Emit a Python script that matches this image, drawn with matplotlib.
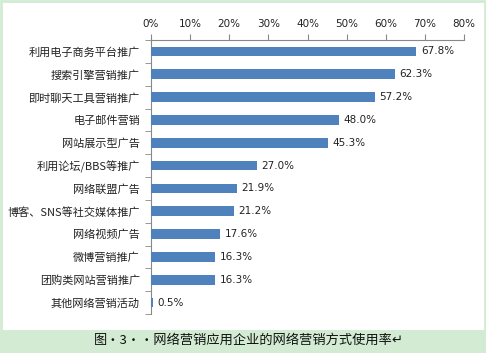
import numpy as np
import matplotlib.pyplot as plt
from matplotlib.patches import Rectangle

plt.rcParams['font.family'] = ['Noto Sans CJK SC', 'DejaVu Sans']

# data
categories = ['利用电子商务平台推广', '搜索引擎营销推广', '即时聊天工具营销推广',
              '电子邮件营销', '网站展示型广告', '利用论坛/BBS等推广',
              '网络联盟广告', '博客、SNS等社交媒体推广', '网络视频广告',
              '微博营销推广', '团购类网站营销推广', '其他网络营销活动']
values = [67.8, 62.3, 57.2, 48.0, 45.3, 27.0, 21.9, 21.2, 17.6, 16.3, 16.3, 0.5]
xticks = [0, 10, 20, 30, 40, 50, 60, 70, 80]
caption = '图·3··网络营销应用企业的网络营销方式使用率↵'

fig = plt.figure(figsize=(4.86, 3.53), dpi=100)
fig.patch.set_facecolor('white')

# green caption band + thin frame
fig.patches.append(Rectangle((0, 0), 1, 23/353, transform=fig.transFigure,
                             facecolor='#d3ebd3', edgecolor='none', zorder=0))
fig.patches.append(Rectangle((0.002, 0.003), 0.996, 0.994, transform=fig.transFigure,
                             facecolor='none', edgecolor='#d3ebd3', lw=2, zorder=1))

ax = fig.add_axes([151/486, 1 - 314/353, 313/486, 274/353])
y = np.arange(len(categories))
ax.barh(y, values, height=0.42, color='#4f81bd', zorder=3)

for yi, v in zip(y, values):
    ax.text(v + 1.2, yi, '%.1f%%' % v, va='center', ha='left', fontsize=7.5,
            color='#222222', family=['DejaVu Sans'])

ax.set_xlim(0, 80)
ax.set_ylim(len(categories) - 0.5, -0.5)
ax.xaxis.tick_top()
ax.set_xticks(xticks)
ax.set_xticklabels(['%d%%' % t for t in xticks], fontsize=7.5, family=['DejaVu Sans'])
ax.tick_params(axis='x', length=4, color='#888888', pad=4, labelcolor='#222222')

ax.set_yticks(y)
ax.set_yticklabels(categories, fontsize=8, color='#222222')
ax.set_yticks(np.arange(-0.5, len(categories), 1), minor=True)
ax.tick_params(axis='y', which='major', length=0, pad=8)
ax.tick_params(axis='y', which='minor', length=4, color='#888888')

for s in ['right', 'bottom']:
    ax.spines[s].set_visible(False)
ax.spines['top'].set_color('#888888')
ax.spines['left'].set_color('#888888')
ax.spines['top'].set_linewidth(0.8)
ax.spines['left'].set_linewidth(0.8)

fig.text(249/486, 1 - 340/353, caption, ha='center', va='center', fontsize=9.5,
         color='#111111')

fig.savefig('out.png', dpi=100)
